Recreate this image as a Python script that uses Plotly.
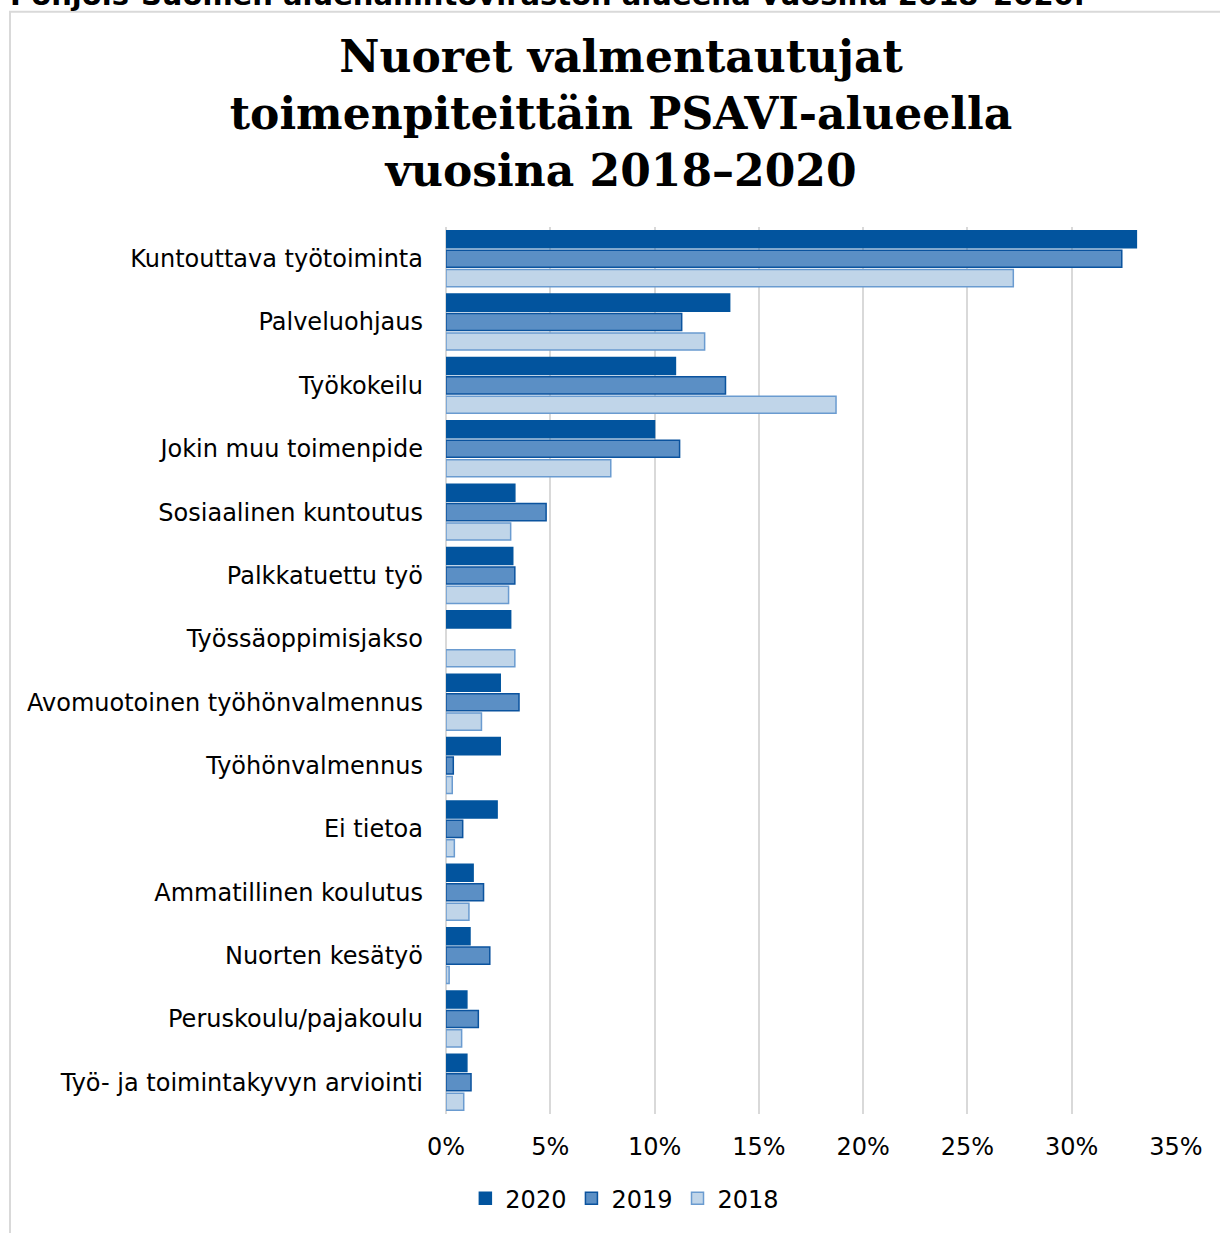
import plotly.graph_objects as go

categories = [
    "Kuntouttava työtoiminta", "Palveluohjaus", "Työkokeilu", "Jokin muu toimenpide",
    "Sosiaalinen kuntoutus", "Palkkatuettu työ", "Työssäoppimisjakso",
    "Avomuotoinen työhönvalmennus", "Työhönvalmennus", "Ei tietoa",
    "Ammatillinen koulutus", "Nuorten kesätyö", "Peruskoulu/pajakoulu",
    "Työ- ja toimintakyvyn arviointi",
]
v2020 = [33.1, 13.6, 11.0, 10.0, 3.3, 3.2, 3.1, 2.6, 2.6, 2.45, 1.3, 1.15, 1.0, 1.0]
v2019 = [32.4, 11.3, 13.4, 11.2, 4.8, 3.3, None, 3.5, 0.35, 0.8, 1.8, 2.1, 1.55, 1.2]
v2018 = [27.2, 12.4, 18.7, 7.9, 3.1, 3.0, 3.3, 1.7, 0.3, 0.4, 1.1, 0.15, 0.75, 0.85]
tick_vals = [0, 5, 10, 15, 20, 25, 30, 35]
tick_text = ["0%", "5%", "10%", "15%", "20%", "25%", "30%", "35%"]

series = [
    ("2020", v2020, "#02549E", "#02549E"),
    ("2019", v2019, "#5B8FC5", "#0B539E"),
    ("2018", v2018, "#C0D5E9", "#6A9BD0"),
]

fig = go.Figure()
for name, vals, fill, line in series:
    fig.add_trace(go.Bar(
        y=categories, x=vals, name=name, orientation="h",
        marker=dict(color=fill, line=dict(color=line, width=1.5)),
    ))

FONT = "DejaVu Sans, Verdana, sans-serif"
FS = 24
fig.update_layout(
    width=1220, height=1233,
    margin=dict(l=446, r=44, t=227, b=116),
    paper_bgcolor="white", plot_bgcolor="white",
    barmode="group", bargap=0.08, bargroupgap=0.12,
    font=dict(family=FONT, size=FS, color="#000000"),
    title=dict(
        text="Nuoret valmentautujat<br>toimenpiteittäin PSAVI-alueella<br>vuosina 2018–2020",
        font=dict(family="DejaVu Serif, Georgia, serif", size=44, color="#000000", weight="bold"),
        x=0.509, xanchor="center", xref="container",
        y=1 - 72 / 1233, yanchor="middle", yref="container",
    ),
    xaxis=dict(
        range=[0, 35], tickvals=tick_vals, ticktext=tick_text,
        showgrid=True, gridcolor="#D9D9D9", gridwidth=2,
        zeroline=True, zerolinecolor="#D9D9D9", zerolinewidth=2,
        showline=False, ticks="", ticklabelstandoff=16,
        tickfont=dict(family=FONT, size=FS),
    ),
    yaxis=dict(
        autorange="reversed", showgrid=False, showline=False, ticks="",
        ticklabelstandoff=22, tickfont=dict(family=FONT, size=FS),
    ),
    legend=dict(
        orientation="h", x=0.245, xanchor="center", y=-0.0955, yanchor="middle",
        font=dict(family=FONT, size=FS), itemwidth=30, traceorder="normal",
    ),
    showlegend=True,
)

fig.add_shape(type="rect", xref="paper", yref="paper",
              x0=(10 - 446) / 730, x1=1.2, y0=-0.3, y1=(1117 - 11) / 890,
              line=dict(color="#D9D9D9", width=2), fillcolor="rgba(0,0,0,0)", layer="below")

fig.add_annotation(
    text="Pohjois-Suomen aluehallintoviraston alueella vuosina 2018–2020.",
    xref="paper", yref="paper", x=(8 - 446) / 730, y=(1117 - 13) / 890,
    xanchor="left", yanchor="bottom", showarrow=False,
    font=dict(family="DejaVu Sans, Verdana, sans-serif", size=29, color="#000000", weight="bold"),
)

fig.write_html("out.html", config={"displayModeBar": False},
               post_script="document.body.style.margin='0';document.body.style.padding='0';")
